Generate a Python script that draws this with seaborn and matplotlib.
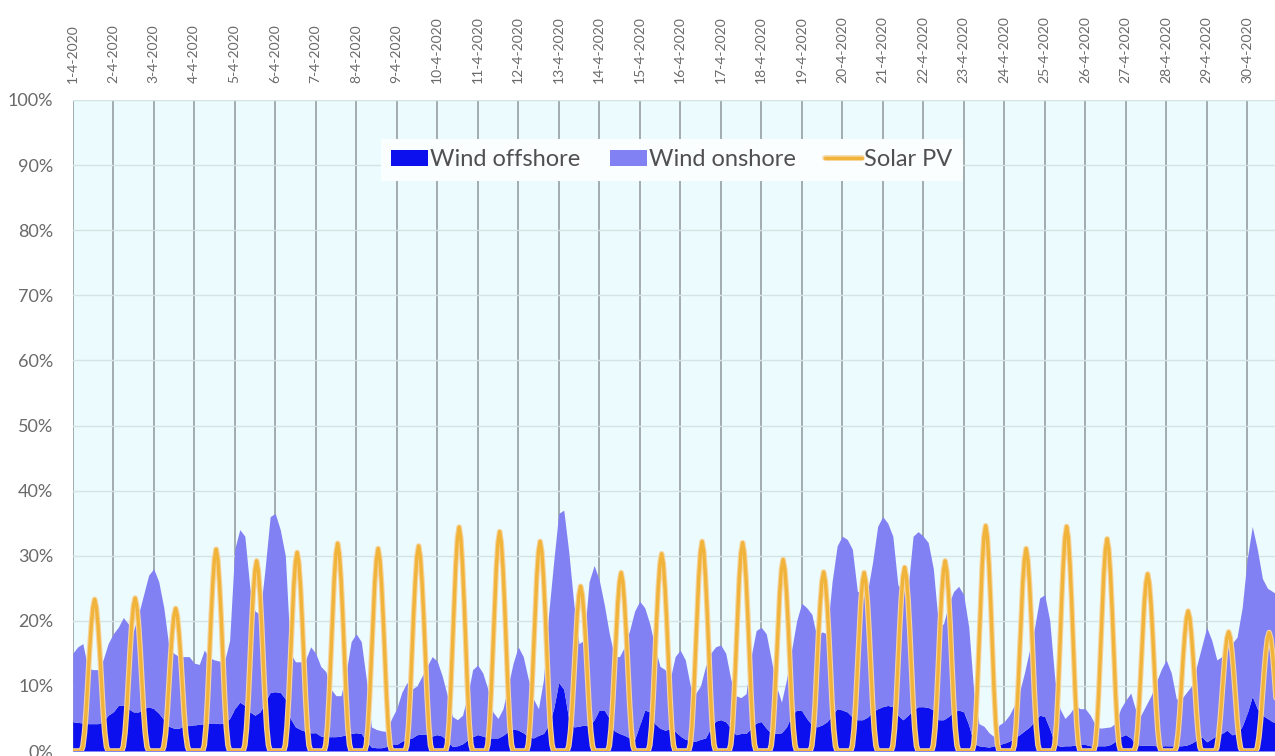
import numpy as np
import matplotlib
matplotlib.use("Agg")
import matplotlib.pyplot as plt
import matplotlib.patheffects as pe
import seaborn as sns

# ---- data (percent of electricity demand), April 2020 ----
dates = ["1-4-2020", "2-4-2020", "3-4-2020", "4-4-2020", "5-4-2020", "6-4-2020",
         "7-4-2020", "8-4-2020", "9-4-2020", "10-4-2020", "11-4-2020", "12-4-2020",
         "13-4-2020", "14-4-2020", "15-4-2020", "16-4-2020", "17-4-2020", "18-4-2020",
         "19-4-2020", "20-4-2020", "21-4-2020", "22-4-2020", "23-4-2020", "24-4-2020",
         "25-4-2020", "26-4-2020", "27-4-2020", "28-4-2020", "29-4-2020", "30-4-2020"]

# wind: one value every 3 hours (00, 03, ..., 21 h) for each day
wind_offshore = [
    4.5, 4.4, 4.3, 4.2, 4.2, 4.2, 4.5, 5.5,
    6.0, 7.0, 7.0, 6.5, 6.0, 6.0, 6.5, 6.8,
    6.5, 5.8, 4.8, 3.8, 3.5, 3.5, 3.9, 3.9,
    4.0, 4.1, 4.2, 4.3, 4.3, 4.2, 4.3, 5.0,
    6.5, 7.5, 7.0, 6.0, 5.5, 6.0, 7.5, 9.0,
    9.1, 9.0, 8.0, 5.0, 3.7, 3.3, 3.0, 2.8,
    2.8, 2.3, 2.2, 2.2, 2.2, 2.3, 2.5, 2.7,
    2.8, 2.7, 1.5, 0.6, 0.5, 0.5, 0.7, 1.0,
    1.0, 1.5, 1.8, 2.0, 2.5, 2.6, 2.6, 2.3,
    2.5, 2.3, 1.5, 0.7, 0.8, 1.1, 1.7, 2.2,
    2.5, 2.3, 2.0, 2.0, 2.0, 2.4, 3.0, 3.4,
    3.2, 2.8, 2.2, 2.0, 2.4, 2.7, 4.0, 6.5,
    10.5, 9.5, 4.8, 3.7, 3.8, 4.0, 3.8, 4.8,
    6.3, 6.3, 5.0, 3.1, 2.7, 2.4, 2.0, 1.8,
    4.0, 6.3, 6.0, 4.2, 3.5, 3.2, 3.4, 3.0,
    2.3, 1.8, 1.6, 1.5, 1.8, 2.0, 3.5, 4.6,
    4.8, 4.5, 3.5, 2.5, 2.7, 2.7, 3.5, 4.3,
    4.5, 3.5, 2.7, 2.7, 2.8, 3.7, 5.5, 6.3,
    6.2, 5.0, 4.0, 3.7, 4.0, 4.5, 5.5, 6.5,
    6.3, 6.0, 5.2, 4.8, 4.8, 5.2, 6.0, 6.5,
    6.8, 7.0, 6.8, 5.5, 4.8, 5.5, 6.3, 6.8,
    6.8, 6.7, 6.3, 4.8, 4.8, 5.3, 6.0, 6.3,
    6.0, 4.0, 1.2, 0.8, 0.7, 0.6, 0.8, 1.0,
    1.2, 1.5, 2.0, 2.5, 3.1, 3.7, 4.6, 5.5,
    5.3, 3.4, 1.2, 0.7, 0.8, 0.8, 0.9, 1.0,
    1.0, 0.8, 0.8, 0.8, 0.8, 1.0, 1.5, 2.2,
    2.5, 2.0, 1.0, 0.9, 0.9, 0.9, 0.8, 0.8,
    0.8, 0.8, 0.8, 0.8, 0.9, 1.2, 1.7, 2.2,
    1.4, 1.9, 2.4, 2.7, 3.2, 2.5, 2.6, 3.8,
    5.8, 8.4, 6.5, 5.5, 5.0, 4.5, 4.3, 4.1,
]

wind_onshore = [
    10.5, 11.6, 12.2, 8.5, 8.3, 8.3, 9.5, 11.0,
    12.0, 12.0, 13.5, 13.0, 12.5, 15.0, 17.5, 20.2,
    21.5, 20.2, 17.2, 12.2, 11.5, 11.0, 10.6, 10.6,
    9.5, 9.2, 11.3, 10.0, 9.7, 9.6, 9.5, 12.0,
    24.5, 26.5, 26.0, 19.0, 16.0, 15.0, 20.5, 27.0,
    27.4, 25.0, 22.0, 10.0, 10.0, 10.4, 11.0, 13.2,
    12.2, 10.7, 10.0, 7.3, 6.3, 6.2, 9.5, 14.1,
    15.2, 14.1, 9.5, 3.1, 2.8, 2.6, 2.3, 4.0,
    5.5, 7.5, 8.7, 7.5, 7.5, 8.9, 10.4, 12.2,
    11.3, 9.2, 7.0, 4.6, 4.0, 4.4, 6.8, 10.3,
    10.7, 9.7, 7.5, 4.0, 3.0, 4.1, 7.0, 10.1,
    12.8, 11.7, 8.8, 6.0, 4.1, 8.3, 17.0, 22.5,
    26.0, 27.5, 25.7, 18.8, 12.7, 13.0, 22.2, 23.7,
    20.0, 16.2, 13.0, 11.4, 11.8, 13.6, 16.5, 19.7,
    19.0, 15.7, 13.5, 11.8, 9.5, 9.3, 7.6, 11.5,
    13.2, 12.2, 8.4, 7.3, 8.2, 11.0, 11.5, 11.4,
    11.5, 10.5, 7.5, 6.0, 5.5, 6.1, 11.0, 14.2,
    14.5, 14.5, 11.3, 7.3, 4.7, 7.3, 10.0, 13.7,
    16.5, 17.0, 17.0, 13.8, 14.3, 13.5, 20.5, 25.0,
    26.7, 26.5, 25.8, 19.7, 19.7, 19.3, 23.0, 28.0,
    29.2, 28.0, 26.2, 20.0, 19.9, 19.5, 26.7, 26.9,
    26.2, 25.3, 21.7, 14.7, 14.7, 17.2, 18.5, 19.0,
    18.0, 15.0, 7.8, 3.4, 3.1, 2.2, 1.4, 3.0,
    3.3, 4.0, 5.0, 6.5, 8.9, 11.8, 14.4, 18.0,
    18.7, 16.6, 9.8, 5.8, 4.2, 5.0, 6.1, 5.5,
    5.5, 4.7, 3.2, 2.7, 2.8, 2.7, 2.8, 4.3,
    5.3, 6.9, 5.2, 4.6, 6.1, 7.6, 9.7, 11.7,
    13.2, 11.2, 7.2, 7.2, 8.1, 8.8, 11.3, 13.8,
    17.6, 15.1, 11.6, 11.8, 15.3, 14.0, 14.9, 18.2,
    23.7, 26.1, 24.5, 21.0, 20.0, 20.0, 19.7, 19.4,
]

# solar PV: hourly values from 06 h to 20 h for each day (zero at other hours)
solar_daylight = [
    [0.7, 2.8, 6.3, 10.7, 15.4, 19.3, 22.1, 23.3, 22.1, 19.3, 15.4, 10.7, 6.3, 2.8, 0.7],
    [0.7, 2.8, 6.3, 10.8, 15.5, 19.5, 22.3, 23.5, 22.3, 19.5, 15.5, 10.8, 6.3, 2.8, 0.7],
    [0.7, 2.6, 5.9, 10.1, 14.5, 18.2, 20.8, 21.9, 20.8, 18.2, 14.5, 10.1, 5.9, 2.6, 0.7],
    [0.9, 3.7, 8.4, 14.3, 20.5, 25.7, 29.5, 31.0, 29.5, 25.7, 20.5, 14.3, 8.4, 3.7, 0.9],
    [0.9, 3.5, 7.9, 13.4, 19.3, 24.2, 27.7, 29.2, 27.7, 24.2, 19.3, 13.4, 7.9, 3.5, 0.9],
    [0.9, 3.7, 8.2, 14.0, 20.1, 25.3, 29.0, 30.5, 29.0, 25.3, 20.1, 14.0, 8.2, 3.7, 0.9],
    [1.0, 3.8, 8.6, 14.7, 21.1, 26.5, 30.3, 31.9, 30.3, 26.5, 21.1, 14.7, 8.6, 3.8, 1.0],
    [0.9, 3.7, 8.4, 14.3, 20.5, 25.8, 29.5, 31.1, 29.5, 25.8, 20.5, 14.3, 8.4, 3.7, 0.9],
    [0.9, 3.8, 8.5, 14.5, 20.8, 26.1, 29.9, 31.5, 29.9, 26.1, 20.8, 14.5, 8.5, 3.8, 0.9],
    [1.0, 4.1, 9.3, 15.8, 22.7, 28.6, 32.7, 34.4, 32.7, 28.6, 22.7, 15.8, 9.3, 4.1, 1.0],
    [1.0, 4.0, 9.1, 15.5, 22.2, 28.0, 32.0, 33.7, 32.0, 28.0, 22.2, 15.5, 9.1, 4.0, 1.0],
    [1.0, 3.9, 8.7, 14.8, 21.3, 26.7, 30.6, 32.2, 30.6, 26.7, 21.3, 14.8, 8.7, 3.9, 1.0],
    [0.8, 3.0, 6.8, 11.6, 16.7, 21.0, 24.0, 25.3, 24.0, 21.0, 16.7, 11.6, 6.8, 3.0, 0.8],
    [0.8, 3.3, 7.4, 12.6, 18.1, 22.7, 26.0, 27.4, 26.0, 22.7, 18.1, 12.6, 7.4, 3.3, 0.8],
    [0.9, 3.6, 8.2, 13.9, 20.0, 25.1, 28.8, 30.3, 28.8, 25.1, 20.0, 13.9, 8.2, 3.6, 0.9],
    [1.0, 3.9, 8.7, 14.8, 21.3, 26.7, 30.6, 32.2, 30.6, 26.7, 21.3, 14.8, 8.7, 3.9, 1.0],
    [1.0, 3.8, 8.6, 14.7, 21.1, 26.6, 30.4, 32.0, 30.4, 26.6, 21.1, 14.7, 8.6, 3.8, 1.0],
    [0.9, 3.5, 7.9, 13.5, 19.4, 24.4, 27.9, 29.4, 27.9, 24.4, 19.4, 13.5, 7.9, 3.5, 0.9],
    [0.8, 3.3, 7.4, 12.7, 18.2, 22.8, 26.1, 27.5, 26.1, 22.8, 18.2, 12.7, 7.4, 3.3, 0.8],
    [0.8, 3.3, 7.4, 12.6, 18.1, 22.7, 26.0, 27.4, 26.0, 22.7, 18.1, 12.6, 7.4, 3.3, 0.8],
    [0.8, 3.4, 7.6, 13.0, 18.6, 23.4, 26.8, 28.2, 26.8, 23.4, 18.6, 13.0, 7.6, 3.4, 0.8],
    [0.9, 3.5, 7.9, 13.4, 19.3, 24.2, 27.7, 29.2, 27.7, 24.2, 19.3, 13.4, 7.9, 3.5, 0.9],
    [1.0, 4.2, 9.3, 15.9, 22.8, 28.7, 32.9, 34.6, 32.9, 28.7, 22.8, 15.9, 9.3, 4.2, 1.0],
    [0.9, 3.7, 8.4, 14.3, 20.5, 25.8, 29.5, 31.1, 29.5, 25.8, 20.5, 14.3, 8.4, 3.7, 0.9],
    [1.0, 4.1, 9.3, 15.9, 22.8, 28.6, 32.8, 34.5, 32.8, 28.6, 22.8, 15.9, 9.3, 4.1, 1.0],
    [1.0, 3.9, 8.8, 15.0, 21.5, 27.1, 31.0, 32.6, 31.0, 27.1, 21.5, 15.0, 8.8, 3.9, 1.0],
    [0.8, 3.3, 7.3, 12.5, 18.0, 22.6, 25.8, 27.2, 25.8, 22.6, 18.0, 12.5, 7.3, 3.3, 0.8],
    [0.6, 2.6, 5.8, 9.9, 14.2, 17.8, 20.4, 21.5, 20.4, 17.8, 14.2, 9.9, 5.8, 2.6, 0.6],
    [0.5, 2.2, 4.9, 8.4, 12.1, 15.2, 17.4, 18.3, 17.4, 15.2, 12.1, 8.4, 4.9, 2.2, 0.5],
    [0.5, 2.2, 4.9, 8.4, 12.0, 15.1, 17.3, 18.2, 17.3, 15.1, 12.0, 8.4, 4.9, 2.2, 0.5],
]

series_labels = ["Wind offshore", "Wind onshore", "Solar PV"]
ytick_values = [0, 10, 20, 30, 40, 50, 60, 70, 80, 90, 100]

# ---- build time axes (in days since 1 April) ----
n_days = len(dates)
t_wind = np.arange(len(wind_offshore)) * 3 / 24.0
solar_hourly = np.zeros((n_days, 24))
solar_hourly[:, 6:21] = np.array(solar_daylight)
solar_flat = solar_hourly.ravel()
t_solar = np.arange(n_days * 24) / 24.0

# ---- styling ----
sns.set_theme(style="white")
plt.rcParams["font.family"] = ["Lato", "DejaVu Sans"]

c_off = "#0c10ee"
c_on = "#8181f3"
c_solar = "#f1b43a"
c_text = "#6a6a6a"

fig = plt.figure(figsize=(12.75, 7.56), dpi=100)
ax = fig.add_axes([72.7 / 1275, 5 / 756, 1202.3 / 1275, 651 / 756])
ax.set_facecolor("#ecfbfd")

polys = ax.stackplot(t_wind, wind_offshore, wind_onshore,
                     colors=[c_off, c_on], labels=series_labels[:2],
                     linewidth=0, zorder=2)
sns.lineplot(x=t_solar, y=solar_flat, ax=ax, color=c_solar, linewidth=2.4,
             label=series_labels[2], zorder=3, legend=False)
solar_line = ax.get_lines()[0]
solar_line.set_path_effects([pe.Stroke(linewidth=4.0, foreground="#f6d4a0"),
                             pe.Normal()])

ax.set_xlim(0, 1202.3 / 40.5)
ax.set_ylim(0, 100)

ax.set_xticks(np.arange(n_days))
ax.set_xticklabels(dates, rotation=90)
ax.xaxis.tick_top()
ax.set_yticks(ytick_values)
ax.set_yticklabels([f"{v}%" for v in ytick_values])
ax.tick_params(axis="x", length=0, pad=12, labelsize=10, labelcolor=c_text)
ax.tick_params(axis="y", length=0, pad=14, labelsize=13, labelcolor=c_text)

ax.set_axisbelow(True)
ax.grid(axis="x", color="#9da6a9", linewidth=1.3, zorder=1)
ax.grid(axis="y", color="#d4e3e3", linewidth=1.0, zorder=1)
for s in ax.spines.values():
    s.set_visible(False)

handles = [polys[0], polys[1], solar_line]
leg = ax.legend(handles, series_labels, ncol=3, loc="center",
                bbox_to_anchor=(0.4985, 0.908), frameon=True, fancybox=False,
                facecolor="#fbfefe", edgecolor="none", framealpha=1,
                fontsize=17, handlelength=1.55, handleheight=0.65,
                handletextpad=0.1, columnspacing=1.25, borderpad=0.45)
for txt in leg.get_texts():
    txt.set_color("#505050")

fig.savefig("out.png", dpi=100)
